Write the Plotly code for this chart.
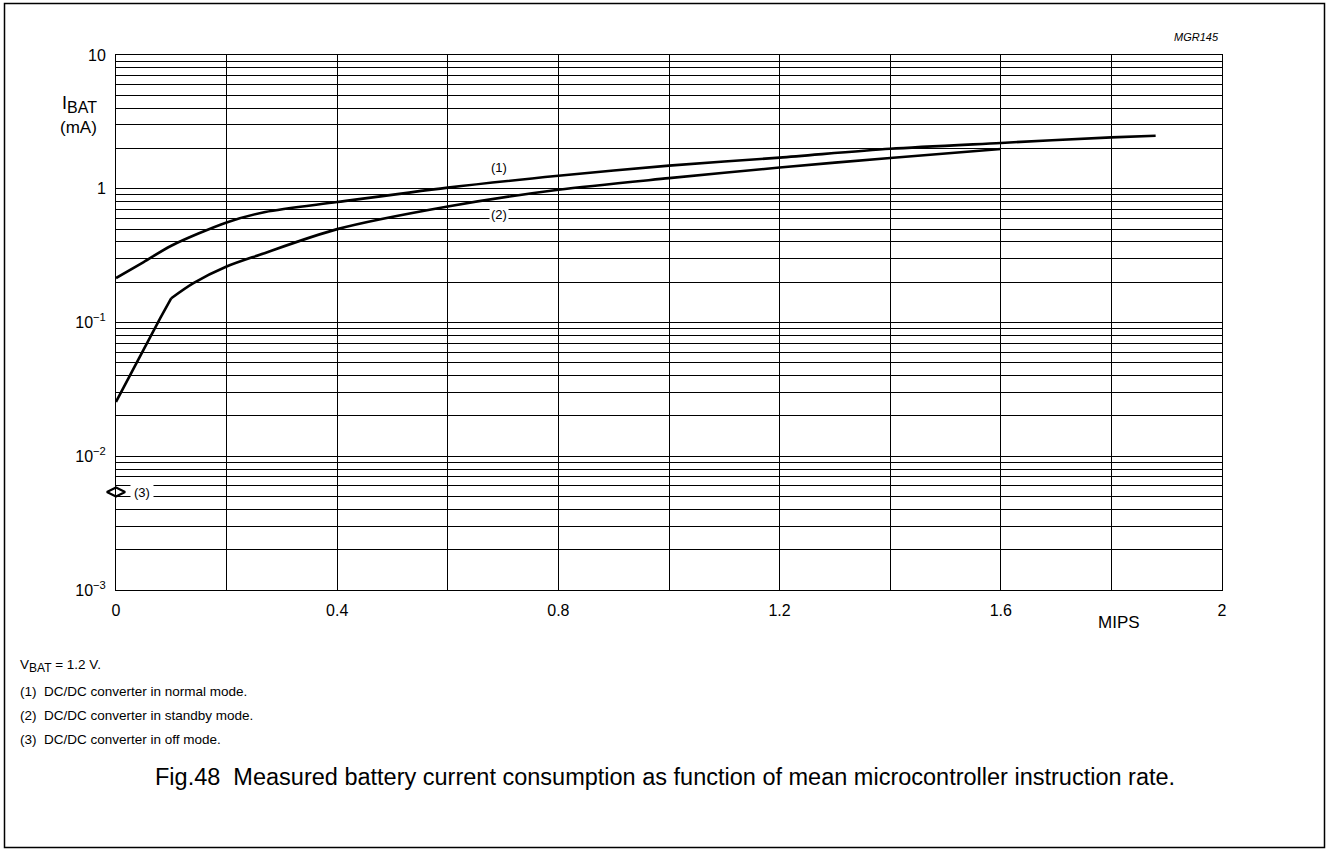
import plotly.graph_objects as go

# ---- data ----
mips_normal = [0, 0.05, 0.1, 0.2, 0.27, 0.4, 0.6, 0.8, 1.0, 1.2, 1.4, 1.6, 1.8, 1.88]
ibat_normal = [0.215, 0.283, 0.375, 0.56, 0.67, 0.795, 1.02, 1.25, 1.49, 1.71, 1.99, 2.2, 2.42, 2.49]

mips_standby = [0, 0.043, 0.08, 0.1, 0.14, 0.2, 0.26, 0.4, 0.6, 0.8, 1.0, 1.2, 1.4, 1.6]
ibat_standby = [0.0255, 0.0557, 0.108, 0.152, 0.197, 0.262, 0.321, 0.499, 0.737, 0.983, 1.20, 1.44, 1.70, 1.98]

mips_off = [0]
ibat_off = [0.0054]

x_grid = [0, 0.2, 0.4, 0.6, 0.8, 1.0, 1.2, 1.4, 1.6, 1.8, 2.0]
x_labels = ["0", "", "0.4", "", "0.8", "", "1.2", "", "1.6", "", "2"]

decades = [1e-3, 1e-2, 1e-1, 1, 10]
decade_labels = ["10<sup>−3</sup>", "10<sup>−2</sup>", "10<sup>−1</sup>", "1", "10"]

notes = ["V<sub><span style='font-size:12px'>BAT</span></sub> = 1.2 V.",
         "(1)  DC/DC converter in normal mode.",
         "(2)  DC/DC converter in standby mode.",
         "(3)  DC/DC converter in off mode."]
caption = "Fig.48  Measured battery current consumption as function of mean microcontroller instruction rate."

# y grid: every 1..9 multiple of each decade
y_grid, y_text = [], []
for d, lab in zip(decades[:-1], decade_labels[:-1]):
    for m in range(1, 10):
        y_grid.append(d * m)
        y_text.append(lab if m == 1 else "")
y_grid.append(decades[-1])
y_text.append(decade_labels[-1])

FONT = "Liberation Sans, Arial, sans-serif"

fig = go.Figure()
fig.add_trace(go.Scatter(x=mips_normal, y=ibat_normal, mode="lines",
                         line=dict(color="black", width=2.6, shape="spline", smoothing=0.8),
                         showlegend=False, hoverinfo="skip"))
fig.add_trace(go.Scatter(x=mips_standby[:4], y=ibat_standby[:4], mode="lines",
                         line=dict(color="black", width=2.6),
                         showlegend=False, hoverinfo="skip"))
fig.add_trace(go.Scatter(x=mips_standby[3:], y=ibat_standby[3:], mode="lines",
                         line=dict(color="black", width=2.6, shape="spline", smoothing=0.8),
                         showlegend=False, hoverinfo="skip"))
fig.add_trace(go.Scatter(x=mips_off, y=ibat_off, mode="markers", cliponaxis=False,
                         marker=dict(symbol="diamond-wide-open", size=13, color="black",
                                     line=dict(width=2.2, color="black")),
                         showlegend=False, hoverinfo="skip"))

W, H = 1327, 850
L, R, T, B = 116, 105, 55, 260
pw, ph = W - L - R, H - T - B

def px(xp):
    return (xp - L) / pw

def py(yp):
    return (H - B - yp) / ph

def txt(x, y, text, size, anchor="center", **kw):
    return dict(x=px(x), y=py(y), xref="paper", yref="paper", text=text, showarrow=False,
                xanchor=anchor, yanchor="middle",
                font=dict(size=size, family=FONT, color="black"), **kw)

annots = []
# curve labels
annots.append(dict(x=0.6926, y=0.158, xref="x", yref="y", text="(1)", showarrow=False,
                   xanchor="center", yanchor="middle",
                   font=dict(size=13, family=FONT, color="black")))
annots.append(dict(x=0.6926, y=-0.194, xref="x", yref="y", text="(2)", showarrow=False,
                   xanchor="center", yanchor="middle", bgcolor="white", borderpad=1,
                   font=dict(size=13, family=FONT, color="black")))
annots.append(dict(x=0.047, y=-2.268, xref="x", yref="y", text="(3)", showarrow=False,
                   xanchor="center", yanchor="middle", bgcolor="white", borderpad=3,
                   font=dict(size=13, family=FONT, color="black")))
# axis titles
annots.append(txt(79, 104, "I<sub><span style='font-size:16px'>BAT</span></sub>", 18))
annots.append(txt(78, 128, "(mA)", 17))
annots.append(txt(1119, 622, "MIPS", 17))
annots.append(txt(1221, 37, "<i>MGR145</i>", 11, anchor="right"))
# notes
for t, yy in zip(notes, [666, 691, 715, 739]):
    annots.append(txt(18, yy, t, 13.5, anchor="left"))
annots.append(txt(665, 777, caption, 23.5))

fig.update_layout(
    width=W, height=H,
    margin=dict(l=L, r=R, t=T, b=B, autoexpand=False),
    paper_bgcolor="white", plot_bgcolor="white",
    font=dict(family=FONT, size=16, color="black"),
    annotations=annots,
    shapes=[dict(type="rect", xref="paper", yref="paper",
                 x0=px(4.5), x1=px(1324.5), y0=py(847.5), y1=py(3.5),
                 line=dict(color="black", width=1.5), fillcolor="rgba(0,0,0,0)", layer="below")],
)
fig.update_xaxes(range=[0, 2], tickvals=x_grid, ticktext=x_labels, showgrid=True,
                 gridcolor="black", gridwidth=1, showline=True, linecolor="black",
                 linewidth=1, mirror=True, zeroline=False, ticks="", ticklen=0,
                 ticklabelstandoff=6,
                 tickfont=dict(size=16, family=FONT, color="black"))
fig.update_yaxes(type="log", range=[-3, 1], tickvals=y_grid, ticktext=y_text, showgrid=True,
                 gridcolor="black", gridwidth=1, showline=True, linecolor="black",
                 linewidth=1, mirror=True, zeroline=False, ticks="", ticklen=0,
                 ticklabelstandoff=6,
                 tickfont=dict(size=16, family=FONT, color="black"))

fig.write_html("out.html", config={"displayModeBar": False},
               post_script="document.body.style.margin='0';document.body.style.overflow='hidden';")
